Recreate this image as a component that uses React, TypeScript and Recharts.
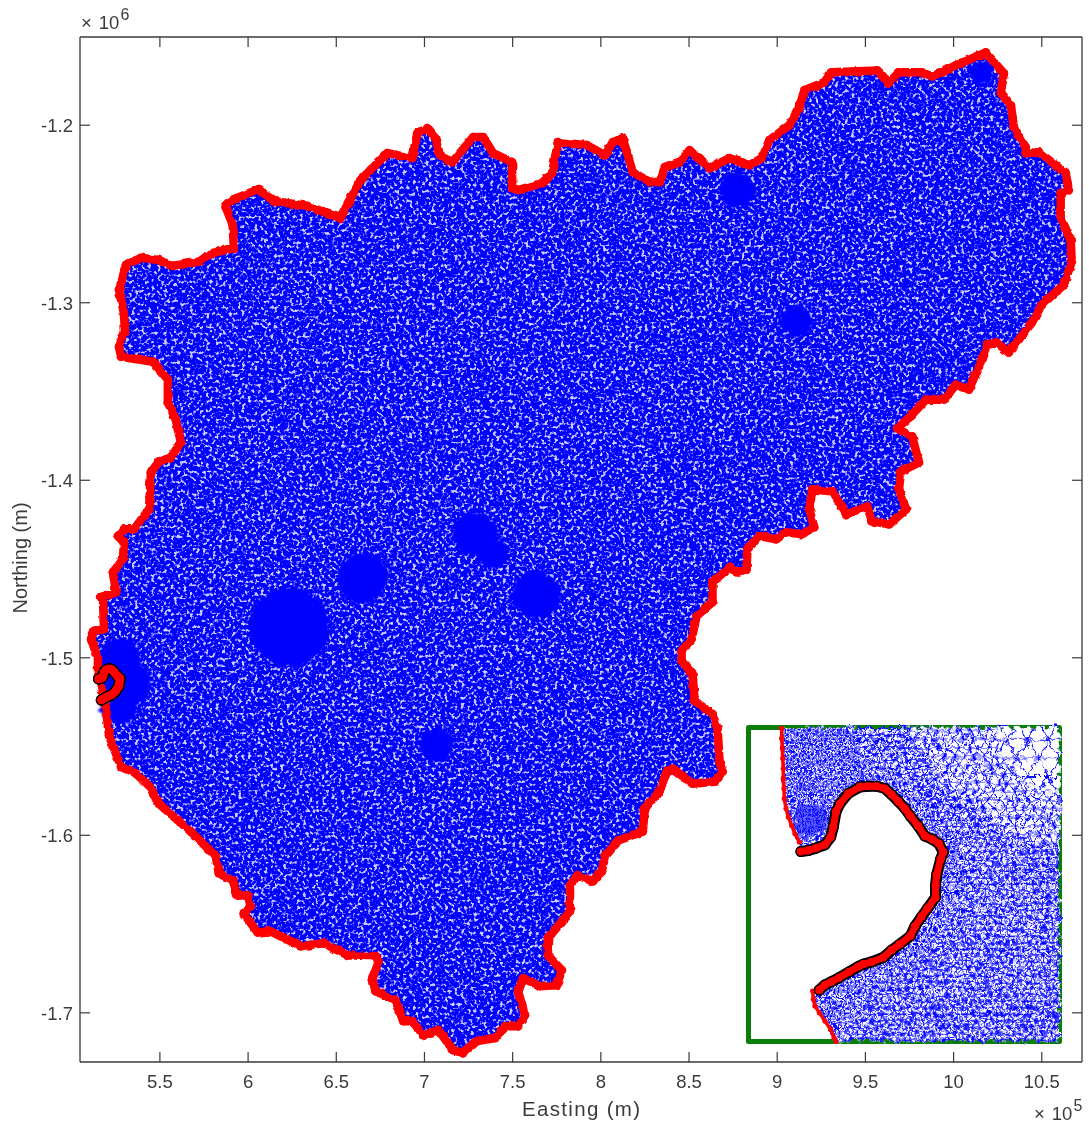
import { ScatterChart, Scatter, XAxis, YAxis } from "recharts"

// all eastings in x10^5 m, all northings in x10^6 m
const xTicks = [5.5, 6, 6.5, 7, 7.5, 8, 8.5, 9, 9.5, 10, 10.5]
const yTicks = [-1.2, -1.3, -1.4, -1.5, -1.6, -1.7]

// outer boundary of the mesh, clockwise
const boundary = [
  [5.619,-1.3787],[5.59,-1.3658],[5.545,-1.3562],[5.545,-1.3433],[5.46,-1.3332],[5.279,-1.3304],[5.268,-1.3248],[5.302,-1.3163],
  [5.296,-1.3057],[5.268,-1.2927],[5.308,-1.2787],[5.393,-1.2747],[5.494,-1.2759],[5.574,-1.2792],[5.715,-1.277],[5.805,-1.2719],
  [5.919,-1.2691],[5.913,-1.2562],[5.873,-1.2461],[5.919,-1.2416],[6.06,-1.236],[6.145,-1.2427],[6.337,-1.2455],[6.524,-1.2523],
  [6.637,-1.2309],[6.693,-1.2253],[6.79,-1.2157],[6.931,-1.2185],[6.959,-1.2045],[7.016,-1.2017],[7.061,-1.2073],[7.089,-1.2169],
  [7.157,-1.2208],[7.276,-1.2067],[7.333,-1.2067],[7.389,-1.2157],[7.497,-1.2208],[7.497,-1.2354],[7.531,-1.2365],[7.666,-1.2326],
  [7.723,-1.227],[7.757,-1.2096],[7.921,-1.2112],[8.023,-1.2169],[8.068,-1.2096],[8.124,-1.2073],[8.181,-1.2264],[8.277,-1.232],
  [8.334,-1.232],[8.362,-1.2236],[8.447,-1.2208],[8.503,-1.2141],[8.549,-1.218],[8.616,-1.2242],[8.73,-1.2185],[8.843,-1.2225],
  [8.911,-1.2185],[8.956,-1.2084],[9.069,-1.2],[9.125,-1.1899],[9.154,-1.1803],[9.267,-1.1758],[9.306,-1.1702],[9.567,-1.1691],
  [9.629,-1.1764],[9.691,-1.1702],[9.821,-1.1702],[9.878,-1.1725],[10.013,-1.1663],[10.183,-1.159],[10.285,-1.1708],[10.268,-1.1815],
  [10.325,-1.1888],[10.342,-1.2011],[10.409,-1.2124],[10.409,-1.2157],[10.483,-1.2152],[10.636,-1.227],[10.653,-1.2365],[10.607,-1.2382],
  [10.607,-1.2517],[10.664,-1.2646],[10.67,-1.277],[10.624,-1.2899],[10.5,-1.3012],[10.443,-1.3113],[10.313,-1.3281],[10.245,-1.3225],
  [10.189,-1.3236],[10.144,-1.336],[10.087,-1.3489],[10.013,-1.3461],[9.946,-1.3546],[9.844,-1.3546],[9.748,-1.3647],[9.68,-1.3708],
  [9.765,-1.3753],[9.804,-1.39],[9.702,-1.395],[9.691,-1.4051],[9.731,-1.4164],[9.635,-1.4248],[9.538,-1.4231],[9.51,-1.4147],
  [9.391,-1.4192],[9.312,-1.4063],[9.199,-1.4051],[9.182,-1.4164],[9.21,-1.4265],[9.137,-1.4304],[9.052,-1.4293],[8.995,-1.4332],
  [8.899,-1.4315],[8.831,-1.4389],[8.826,-1.4501],[8.769,-1.4518],[8.73,-1.449],[8.633,-1.4574],[8.633,-1.4686],[8.543,-1.4765],
  [8.515,-1.4894],[8.458,-1.4962],[8.458,-1.5018],[8.52,-1.5091],[8.532,-1.5243],[8.633,-1.5316],[8.662,-1.54],[8.673,-1.5586],
  [8.69,-1.5642],[8.645,-1.5698],[8.52,-1.5709],[8.407,-1.5625],[8.373,-1.5642],[8.334,-1.5749],[8.249,-1.585],[8.238,-1.5979],
  [8.096,-1.603],[8.023,-1.6114],[8.006,-1.6204],[7.955,-1.626],[7.87,-1.6226],[7.825,-1.6282],[7.825,-1.6429],[7.7,-1.658],
  [7.7,-1.6676],[7.779,-1.676],[7.751,-1.6844],[7.655,-1.685],[7.559,-1.6805],[7.531,-1.6878],[7.57,-1.7013],[7.531,-1.7075],
  [7.457,-1.7075],[7.4,-1.7142],[7.299,-1.7159],[7.219,-1.7227],[7.163,-1.721],[7.078,-1.7097],[6.993,-1.7125],[6.931,-1.7047],
  [6.88,-1.7047],[6.835,-1.6929],[6.722,-1.6878],[6.705,-1.6805],[6.739,-1.671],[6.722,-1.6681],[6.563,-1.6676],[6.428,-1.6608],
  [6.297,-1.6625],[6.128,-1.6541],[6.054,-1.6547],[5.975,-1.644],[6.015,-1.64],[5.998,-1.6339],[5.941,-1.6339],[5.913,-1.6254],
  [5.834,-1.6215],[5.817,-1.6119],[5.675,-1.5979],[5.494,-1.5822],[5.438,-1.572],[5.364,-1.5653],[5.279,-1.5614],[5.212,-1.5439],
  [5.189,-1.5248],[5.149,-1.5102],[5.149,-1.5007],[5.11,-1.4894],[5.127,-1.4849],[5.183,-1.4838],[5.178,-1.4686],[5.166,-1.4658],
  [5.251,-1.463],[5.234,-1.4518],[5.291,-1.4445],[5.296,-1.4349],[5.262,-1.4315],[5.296,-1.4276],[5.353,-1.4276],[5.438,-1.4164],
  [5.449,-1.3956],[5.494,-1.3894],[5.562,-1.3871],[5.619,-1.3787],
]

// patches of very fine mesh: easting, northing, radius in km
const fineE = [6.235, 6.65, 7.287, 7.389, 7.635, 7.07, 8.775, 9.105, 5.268, 5.308, 5.268, 10.16]
const fineN = [-1.4827, -1.4551, -1.4304, -1.4405, -1.4641, -1.549, -1.2365, -1.3107, -1.5018, -1.5147, -1.526, -1.1702]
const fineR = [22.5, 14, 12.5, 9, 13.5, 9.5, 10, 8.8, 12.4, 14.1, 11.3, 6.5]

// the inner curve, shown in both the main view and the inset
const curve = [
  [5.1517,-1.5119],[5.1581,-1.51181],[5.1648,-1.51161],[5.1726,-1.51132],[5.1776,-1.51066],[5.1799,-1.50979],[5.1822,-1.50849],
  [5.1857,-1.50777],[5.1929,-1.5069],[5.2031,-1.50633],[5.2104,-1.50627],[5.2176,-1.50627],[5.2249,-1.50647],[5.2307,-1.50699],
  [5.2365,-1.50757],[5.2423,-1.5082],[5.2472,-1.50887],[5.2539,-1.5097],[5.2597,-1.51057],[5.2664,-1.51086],[5.2719,-1.51123],
  [5.2757,-1.51196],[5.2734,-1.51259],[5.2699,-1.51392],[5.269,-1.51484],[5.269,-1.51585],[5.262,-1.51681],[5.2568,-1.51753],
  [5.251,-1.51837],[5.2472,-1.51917],[5.2379,-1.5199],[5.2307,-1.52042],[5.2234,-1.52105],[5.2133,-1.52143],[5.206,-1.52163],
  [5.2017,-1.52183],[5.1938,-1.52229],[5.1851,-1.52278],[5.1784,-1.52313],[5.1726,-1.52342],[5.1677,-1.52385],
]

// boundary points inside the inset window
const coastNorth = [
  [5.1349,-1.50127],[5.1349,-1.50214],[5.1355,-1.50301],[5.1358,-1.50387],[5.1363,-1.50474],[5.1363,-1.50561],[5.1369,-1.50647],
  [5.1372,-1.50734],[5.1387,-1.5082],[5.1407,-1.50893],[5.1436,-1.50965],[5.1465,-1.51037],[5.1503,-1.51109],
]
const coastSouth = [
  [5.1619,-1.52394],[5.1625,-1.52466],[5.1639,-1.52524],[5.1677,-1.52581],[5.1726,-1.52654],[5.1776,-1.52726],[5.1805,-1.52798],[5.1822,-1.5283],
]

// inset window
const insetE = [5.106, 5.377]
const insetN = [-1.5283, -1.5012]
const insetBox = [[insetE[0],insetN[1]],[insetE[1],insetN[1]],[insetE[1],insetN[0]],[insetE[0],insetN[0]],[insetE[0],insetN[1]]]

// how fine the mesh is across the inset
const meshAll = [
  [insetE[1],insetN[1]], [insetE[1],insetN[0]],
  ...[...coastSouth].reverse(), ...[...curve].reverse(), ...[...coastNorth].reverse(),
]
const meshMid = [[5.2438,-1.5012],[5.3221,-1.5012],[5.325,-1.50358],[5.3541,-1.50662],[5.377,-1.50676],[5.377,-1.51167],[5.3308,-1.51022],[5.2873,-1.50734]]
const meshCoarse = [[5.3221,-1.5012],[5.377,-1.5012],[5.377,-1.50676],[5.3541,-1.50662],[5.325,-1.50358]]
const meshBandTop = [[5.1857,-1.50777],[5.2031,-1.50633],[5.2249,-1.50647],[5.2539,-1.5097],[5.2699,-1.50936],[5.2438,-1.50561],[5.2031,-1.50387],[5.1828,-1.50532]]
const meshBandSouth = [
  [5.2597,-1.51057],[5.2757,-1.51196],[5.269,-1.51585],[5.2472,-1.51917],[5.2234,-1.52105],[5.1938,-1.52229],[5.1677,-1.52385],[5.1639,-1.52524],
  [5.1776,-1.52726],[5.1857,-1.5283],[5.1973,-1.5261],[5.2205,-1.52293],[5.2612,-1.52033],[5.2873,-1.51658],[5.296,-1.51225],[5.2699,-1.50936],
]
const meshNorth = [[5.1349,-1.5012],[5.2,-1.5012],[5.2031,-1.5056],[5.1857,-1.507],[5.177,-1.5099],[5.1509,-1.5111],[5.1363,-1.5056]]
const meshCore = [[5.1465,-1.50792],[5.1726,-1.50792],[5.1741,-1.50994],[5.1538,-1.5108],[5.1465,-1.50965]]

const toPts = (list: number[][]) => list.map(([e, n]) => ({ e, n }))
const fineData = fineE.map((e, i) => ({ e, n: fineN[i], r: fineR[i] }))

const INK = "#3a3a3a"
const FONT = "'Liberation Sans', Arial, sans-serif"
const PX_PER_KM = 1.765

const nothing = () => null
const pathOf = (p: any, close: boolean) =>
  "M" + p.points.map((q: any) => `${q.x},${q.y}`).join("L") + (close ? "Z" : "")
const regionLine = (fill: string, filter?: string) => (p: any) => (
  <path key={fill} d={pathOf(p, true)} fill={fill} stroke="none" filter={filter} />
)
const strokeLine = (stroke: string, width: number, filter?: string) => (p: any) => (
  <path key={stroke + width} d={pathOf(p, false)} fill="none" stroke={stroke} strokeWidth={width}
    strokeLinejoin="round" strokeLinecap="round" filter={filter} />
)
const dot = (r: number, fill: string) => (p: any) => <circle cx={p.cx} cy={p.cy} r={r} fill={fill} />

const tickBottom = (p: any) => (
  <g>
    <line x1={p.x} x2={p.x} y1={p.y} y2={p.y - 10} stroke={INK} strokeWidth={1.2} />
    <text x={p.x} y={p.y + 26} textAnchor="middle" fontSize={18.5} fontFamily={FONT} fill={INK}>{p.payload.value}</text>
  </g>
)
const tickTop = (p: any) => <line x1={p.x} x2={p.x} y1={p.y} y2={p.y + 10} stroke={INK} strokeWidth={1.2} />
const tickLeft = (p: any) => (
  <g>
    <line x1={p.x} x2={p.x + 10} y1={p.y} y2={p.y} stroke={INK} strokeWidth={1.2} />
    <text x={p.x - 7} y={p.y + 7} textAnchor="end" fontSize={18.5} fontFamily={FONT} fill={INK}>{p.payload.value}</text>
  </g>
)
const tickRight = (p: any) => <line x1={p.x} x2={p.x - 10} y1={p.y} y2={p.y} stroke={INK} strokeWidth={1.2} />

function MeshPattern({ id, s, w }: { id: string; s: number; w: number }) {
  const h = s * 1.732
  const d = `M0,0H${s}M0,${h / 2}H${s}M0,0L${s},${h}M${s},0L0,${h}M0,${h}H${s}`
  return (
    <pattern id={id} patternUnits="userSpaceOnUse" width={s} height={h}>
      <rect width={s} height={h} fill="#ffffff" />
      <path d={d} stroke="#0000ff" strokeWidth={w} fill="none" />
    </pattern>
  )
}

const AXIS_X = [5.047, 10.728]
const AXIS_Y = [-1.7277, -1.1503]

function MainView() {
  return (
    <ScatterChart width={1089} height={1124} margin={{ top: 36, right: 6, bottom: 0, left: 0 }}>
      <defs>
        <filter id="meshNoise" x="0" y="0" width="1" height="1" colorInterpolationFilters="sRGB">
          <feTurbulence type="fractalNoise" baseFrequency="0.31" numOctaves={2} seed={7} result="n" />
          <feColorMatrix in="n" type="matrix" values="0 0 0 0 0.8  0 0 0 0 0.8  0 0 0 0 1  6.5 0 0 0 -3.45" />
          <feGaussianBlur stdDeviation="0.7" />
          <feComposite in2="SourceGraphic" operator="in" result="specks" />
          <feMerge>
            <feMergeNode in="SourceGraphic" />
            <feMergeNode in="specks" />
          </feMerge>
        </filter>
        <filter id="edgeWarp" x="-0.1" y="-0.1" width="1.2" height="1.2" colorInterpolationFilters="sRGB">
          <feTurbulence type="fractalNoise" baseFrequency="0.14" numOctaves={2} seed={11} result="w" />
          <feDisplacementMap in="SourceGraphic" in2="w" scale={3.5} xChannelSelector="R" yChannelSelector="G" />
        </filter>
        <filter id="blobWarp" x="-0.2" y="-0.2" width="1.4" height="1.4" colorInterpolationFilters="sRGB">
          <feTurbulence type="fractalNoise" baseFrequency="0.11" numOctaves={3} seed={5} result="w" />
          <feDisplacementMap in="SourceGraphic" in2="w" scale={9} xChannelSelector="R" yChannelSelector="G" />
          <feGaussianBlur stdDeviation="0.8" />
        </filter>
      </defs>
      <XAxis xAxisId="bottom" type="number" dataKey="e" domain={AXIS_X} ticks={xTicks} interval={0} height={62}
        tick={tickBottom} tickLine={false} tickSize={0} tickMargin={0} axisLine={{ stroke: INK, strokeWidth: 1.3 }} />
      <XAxis xAxisId="top" orientation="top" type="number" dataKey="e" domain={AXIS_X} ticks={xTicks} interval={0} height={1}
        tick={tickTop} tickLine={false} tickSize={0} tickMargin={0} axisLine={{ stroke: INK, strokeWidth: 1.3 }} />
      <YAxis yAxisId="left" type="number" dataKey="n" domain={AXIS_Y} ticks={yTicks} interval={0} width={80}
        tick={tickLeft} tickLine={false} tickSize={0} tickMargin={0} axisLine={{ stroke: INK, strokeWidth: 1.3 }} />
      <YAxis yAxisId="right" orientation="right" type="number" dataKey="n" domain={AXIS_Y} ticks={yTicks} interval={0} width={1}
        tick={tickRight} tickLine={false} tickSize={0} tickMargin={0} axisLine={{ stroke: INK, strokeWidth: 1.3 }} />

      {/* ties the top and right axes to a series so they get drawn */}
      <Scatter xAxisId="top" yAxisId="right" data={toPts(boundary)} isAnimationActive={false} shape={nothing} />

      <Scatter xAxisId="bottom" yAxisId="left" data={toPts(boundary)} isAnimationActive={false} shape={nothing}
        line={regionLine("#0000ff", "url(#meshNoise)")} />
      <Scatter xAxisId="bottom" yAxisId="left" data={fineData} isAnimationActive={false}
        shape={(p: any) => <circle cx={p.cx} cy={p.cy} r={p.payload.r * PX_PER_KM} fill="#0000ff" filter="url(#blobWarp)" />} />
      <Scatter xAxisId="bottom" yAxisId="left" data={toPts(boundary)} isAnimationActive={false} shape={dot(4.4, "#ff0000")}
        line={strokeLine("#ff0000", 8.5, "url(#edgeWarp)")} />
      <Scatter xAxisId="bottom" yAxisId="left" data={toPts(curve)} isAnimationActive={false} shape={dot(5.6, "#000000")}
        line={strokeLine("#000000", 11)} />
      <Scatter xAxisId="bottom" yAxisId="left" data={toPts(curve)} isAnimationActive={false} shape={dot(4.1, "#ff0000")}
        line={strokeLine("#ff0000", 7.5)} />

      <text x={581} y={1116} textAnchor="middle" fontSize={20.5} textLength={118} lengthAdjust="spacing" fontFamily={FONT} fill={INK}>Easting (m)</text>
      <text x={27} y={558} textAnchor="middle" fontSize={20} fontFamily={FONT} fill={INK} transform="rotate(-90 27 558)">Northing (m)</text>
      <text x={81} y={29} fontSize={18.5} fontFamily={FONT} fill={INK}>×<tspan dx={7}>10</tspan><tspan dx={1} dy={-9} fontSize={16}>6</tspan></text>
      <text x={1034} y={1120} fontSize={18.5} fontFamily={FONT} fill={INK}>×<tspan dx={7}>10</tspan><tspan dx={1} dy={-9} fontSize={16}>5</tspan></text>
    </ScatterChart>
  )
}

function InsetView() {
  const region = (data: number[][], fill: string) => (
    <Scatter data={toPts(data)} isAnimationActive={false} shape={nothing} line={regionLine(fill, "url(#meshWarp)")} />
  )
  return (
    <ScatterChart width={322} height={326} margin={{ top: 5.5, right: 6.5, bottom: 6.5, left: 4.5 }}>
      <defs>
        <filter id="meshWarp" x="-0.02" y="-0.02" width="1.04" height="1.04" colorInterpolationFilters="sRGB">
          <feTurbulence type="fractalNoise" baseFrequency="0.14" numOctaves={3} seed={3} result="warp" />
          <feDisplacementMap in="SourceGraphic" in2="warp" scale={11} xChannelSelector="R" yChannelSelector="G" />
          <feGaussianBlur stdDeviation="0.3" />
        </filter>
        <MeshPattern id="mesh8" s={7.5} w={1.25} />
        <MeshPattern id="mesh12" s={10} w={1.2} />
        <MeshPattern id="mesh20" s={21} w={1.2} />
        <MeshPattern id="mesh6" s={6} w={1.1} />
        <MeshPattern id="mesh4" s={5} w={1} />
        <MeshPattern id="mesh3" s={3.2} w={0.95} />
      </defs>
      <XAxis type="number" dataKey="e" domain={insetE} hide />
      <YAxis type="number" dataKey="n" domain={insetN} hide />

      <Scatter data={toPts(insetBox)} isAnimationActive={false} shape={nothing}
        line={strokeLine("#0a7d0a", 5)} />
      {region(meshAll, "url(#mesh8)")}
      {region(meshMid, "url(#mesh12)")}
      {region(meshCoarse, "url(#mesh20)")}
      {region(meshBandTop, "url(#mesh6)")}
      {region(meshBandSouth, "url(#mesh6)")}
      {region(meshNorth, "url(#mesh4)")}
      {region(meshCore, "url(#mesh3)")}
      <Scatter data={toPts(coastNorth)} isAnimationActive={false} shape={dot(2.6, "#ff0000")} line={strokeLine("#ff0000", 3.5)} />
      <Scatter data={toPts(coastSouth)} isAnimationActive={false} shape={dot(2.6, "#ff0000")} line={strokeLine("#ff0000", 3.5)} />
      <Scatter data={toPts(curve)} isAnimationActive={false} shape={dot(5.6, "#000000")} line={strokeLine("#000000", 11)} />
      <Scatter data={toPts(curve)} isAnimationActive={false} shape={dot(4.1, "#ff0000")} line={strokeLine("#ff0000", 7)} />
    </ScatterChart>
  )
}

export default function App() {
  return (
    <div style={{ position: "absolute", left: 0, top: 0, width: 1089, height: 1124, background: "#fff", filter: "blur(0.5px)" }}>
      <MainView />
      <div style={{ position: "absolute", left: 744, top: 722 }}>
        <InsetView />
      </div>
    </div>
  )
}
